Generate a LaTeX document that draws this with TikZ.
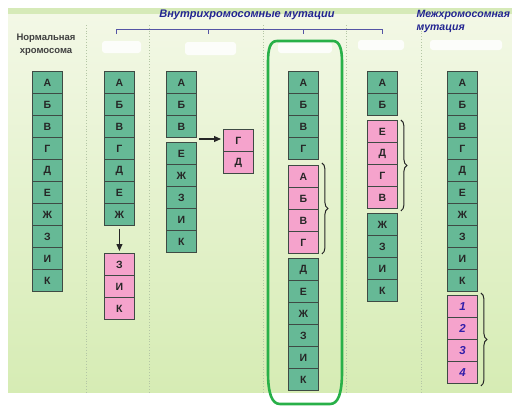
\documentclass[tikz,border=0pt]{standalone}
\usepackage{fontspec}
\setmainfont{Liberation Sans}
\usetikzlibrary{decorations.pathreplacing,arrows.meta}
\definecolor{cellgreen}{RGB}{102,185,150}
\definecolor{cellpink}{RGB}{245,163,204}
\definecolor{cellborder}{RGB}{62,74,68}
\definecolor{headblue}{RGB}{34,36,145}
\definecolor{numblue}{RGB}{50,30,170}
\definecolor{brkblue}{RGB}{85,85,165}
\definecolor{loopgreen}{RGB}{40,176,72}
\definecolor{panelTop}{RGB}{243,248,230}
\definecolor{panelBot}{RGB}{214,236,180}
\definecolor{bandgreen}{RGB}{214,234,184}
\definecolor{sepgray}{RGB}{180,198,165}
\tikzset{
  cell/.style={draw=cellborder, line width=0.9pt, minimum width=30pt, minimum height=22pt,
    inner sep=0pt, anchor=north west, font=\fontsize{10.5}{12}\selectfont\bfseries, text=black!85},
  gcell/.style={cell, fill=cellgreen},
  pcell/.style={cell, fill=cellpink},
  ncell/.style={pcell, font=\fontsize{11.5}{13}\selectfont\bfseries\itshape, text=numblue},
  arr/.style={-{Triangle[length=7pt,width=6pt]}, line width=1.1pt, black!85},
  brc/.style={decorate, decoration={brace, amplitude=6pt}, line width=1pt, black!85},
  sepline/.style={sepgray, dotted, line width=0.8pt},
  brk/.style={brkblue, line width=1pt},
  erased/.style={fill=white, opacity=0.85, rounded corners=3pt},
  headtxt/.style={text=headblue, font=\fontsize{11}{13}\selectfont\bfseries\itshape},
}
\newcommand{\chromcol}[5]{%
  \foreach \t [count=\i from 1] in {#5} {
    \node[#4] (#1-\i) at ({#2},{#3+22*(\i-1)}) {\t};
  }%
}
\begin{document}
\begin{tikzpicture}[x=1pt,y=-1pt]
\useasboundingbox (0,0) rectangle (512,407);
\fill[white] (0,0) rectangle (512,407);
% panel
\shade[top color=panelTop, bottom color=panelBot] (8,14) rectangle (512,392);
\fill[bandgreen] (8,8) rectangle (512,14);
% separators
\foreach \sx in {86,149,263,346,421} \draw[sepline] (\sx,25) -- (\sx,392);
% erased label patches
\fill[erased] (102,41) rectangle (141,53);
\fill[erased] (185,42) rectangle (236,55);
\fill[erased] (278,42) rectangle (332,53);
\fill[erased] (358,40) rectangle (404,50);
\fill[erased] (430,40) rectangle (502,50);
% header
\node[headtxt] (hdr) at (247,15) {Внутрихромосомные мутации};
\draw[brk] (116,34) -- (116,29) -- (382,29) -- (382,34);
\draw[brk] (208,29) -- (208,34);
\draw[brk] (303,29) -- (303,34);
\node[headtxt, anchor=west, align=left, font=\fontsize{10.5}{13}\selectfont\bfseries\itshape] (inter) at (413,21.5) {Межхромосомная\\мутация};
\node[align=center, text=black!75, font=\fontsize{9.5}{13}\selectfont\bfseries] (norm) at (46,44.5) {Нормальная\\хромосома};
% column 1
\chromcol{c1}{32}{71}{gcell}{А,Б,В,Г,Д,Е,Ж,З,И,К}
% column 2
\chromcol{c2a}{104}{71}{gcell}{А,Б,В,Г,Д,Е,Ж}
\chromcol{c2b}{104}{253}{pcell}{З,И,К}
\draw[arr, shorten <=3pt, shorten >=2pt] (c2a-7.south) -- (c2b-1.north);
% column 3
\chromcol{c3a}{166}{71}{gcell}{А,Б,В}
\chromcol{c3b}{166}{142}{gcell}{Е,Ж,З,И,К}
\chromcol{c3p}{223}{129}{pcell}{Г,Д}
\coordinate (a3) at (199,139);
\draw[arr, shorten >=2pt] (a3) -- (c3p-1.west |- a3);
% column 4
\chromcol{c4a}{288}{71}{gcell}{А,Б,В,Г}
\chromcol{c4b}{288}{165}{pcell}{А,Б,В,Г}
\chromcol{c4c}{288}{258}{gcell}{Д,Е,Ж,З,И,К}
\draw[brc] ([xshift=3pt,yshift=2pt]c4b-1.north east) -- ([xshift=3pt]c4b-4.south east);
\draw[loopgreen, line width=2.6pt]
  (277,41) -- (333,41) .. controls (340,41) and (342,50) .. (342,62)
  -- (342,372) .. controls (342,394) and (338,404) .. (330,404)
  -- (280,404) .. controls (272,404) and (268,394) .. (268,372)
  -- (268,62) .. controls (268,49) and (270,41) .. (277,41) -- cycle;
% column 5
\chromcol{c5a}{367}{71}{gcell}{А,Б}
\chromcol{c5b}{367}{120}{pcell}{Е,Д,Г,В}
\chromcol{c5c}{367}{213}{gcell}{Ж,З,И,К}
\draw[brc] ([xshift=3pt]c5b-1.north east) -- ([xshift=3pt,yshift=-2pt]c5b-4.south east);
% column 6
\chromcol{c6a}{447}{71}{gcell}{А,Б,В,Г,Д,Е,Ж,З,И,К}
\chromcol{c6b}{447}{295}{ncell}{1,2,3,4}
\draw[brc] ([xshift=3pt,yshift=2pt]c6b-1.north east) -- ([xshift=3pt,yshift=-2pt]c6b-4.south east);
\end{tikzpicture}
\end{document}
